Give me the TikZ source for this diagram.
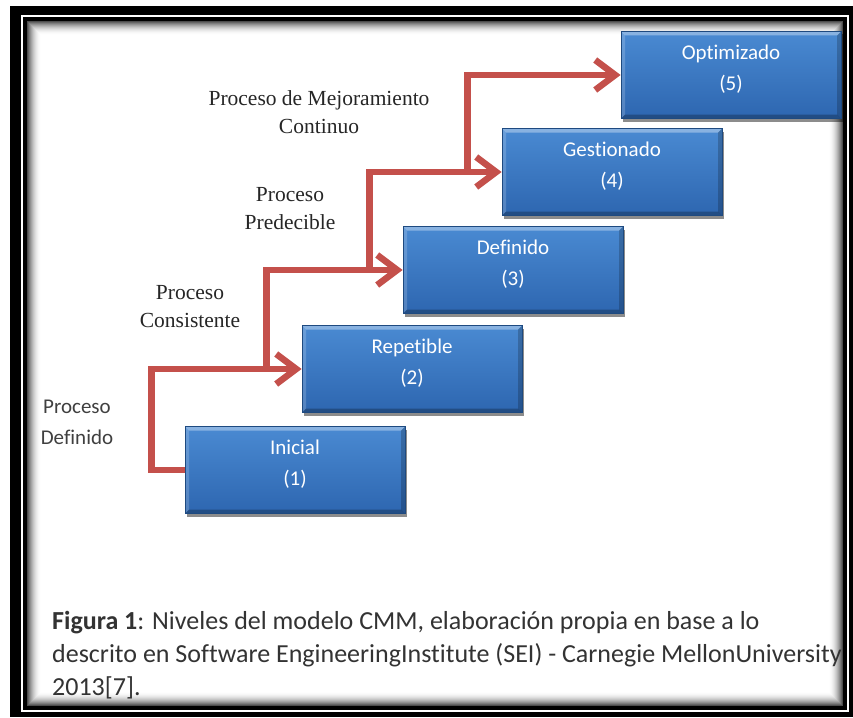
\documentclass[tikz,border=0pt]{standalone}
\usepackage{fontspec}
\setmainfont{Liberation Serif}
\newfontfamily\calib[Ligatures=NoCommon]{Carlito}
\usetikzlibrary{arrows.meta,shadows}

\definecolor{stepred}{HTML}{C4504B}
\definecolor{boxtop}{HTML}{4A8AD2}
\definecolor{boxbot}{HTML}{2D66B0}
\definecolor{boxedge}{HTML}{1E4A80}
\definecolor{labelgray}{HTML}{262626}

\begin{document}
\begin{tikzpicture}[x=1pt,y=-1pt,
  level/.style={minimum width=220pt, minimum height=87pt, inner sep=0pt,
    draw=boxedge, line width=0.8pt, top color=boxtop, bottom color=boxbot,
    drop shadow={shadow xshift=2pt, shadow yshift=-3pt, fill=black, opacity=.45},
    path picture={
      \fill[white,opacity=.35] (path picture bounding box.north west) -- (path picture bounding box.north east)
        -- ([xshift=-4pt,yshift=-4pt]path picture bounding box.north east) -- ([xshift=4pt,yshift=-4pt]path picture bounding box.north west) -- cycle;
      \fill[white,opacity=.18] (path picture bounding box.north west) -- ([xshift=4pt,yshift=-4pt]path picture bounding box.north west)
        -- ([xshift=4pt,yshift=4pt]path picture bounding box.south west) -- (path picture bounding box.south west) -- cycle;
      \fill[black,opacity=.25] (path picture bounding box.south west) -- ([xshift=4pt,yshift=4pt]path picture bounding box.south west)
        -- ([xshift=-4pt,yshift=4pt]path picture bounding box.south east) -- (path picture bounding box.south east) -- cycle;
      \fill[black,opacity=.2] (path picture bounding box.north east) -- ([xshift=-4pt,yshift=-4pt]path picture bounding box.north east)
        -- ([xshift=-4pt,yshift=4pt]path picture bounding box.south east) -- (path picture bounding box.south east) -- cycle;
    }},
  leveltext/.style={align=center, text=white, inner sep=0pt, font=\calib\fontsize{21}{31}\selectfont},
  stage/.style={align=center, text=labelgray, inner sep=0pt, font=\fontsize{21.5}{28}\selectfont},
  climb/.style={draw=stepred, line width=6.5pt, -{Straight Barb[length=20pt,width=30pt]}},
  caption/.style={align=left, text=black!80, inner sep=0pt, anchor=base west, font=\calib\fontsize{26}{33}\selectfont}
]
\useasboundingbox (0,0) rectangle (853,717);
\fill[white] (0,0) rectangle (853,717);

% framed panel
\fill[black] (10,6) rectangle (853,717);
\draw[white, line width=2pt] (22,16) rectangle (848,711);
\fill[black] (23,17) rectangle (846,710);
\foreach \i [evaluate=\i as \g using {70*(1-\i/14)^2}] in {0,...,14}
  \fill[black!\g!white] (27+\i,21+\i) rectangle (843-\i,706-\i);

% maturity levels
\node[level] (b1) at (295,470) {};
\node[level] (b2) at (412,369) {};
\node[level] (b3) at (513,270) {};
\node[level] (b4) at (612,172) {};
\node[level] (b5) at (731,75) {};

\node[leveltext] (t1) at ([yshift=6pt]b1.center) {Inicial\\(1)};
\node[leveltext] (t2) at ([yshift=6pt]b2.center) {Repetible\\(2)};
\node[leveltext] (t3) at ([yshift=6pt]b3.center) {Definido\\(3)};
\node[leveltext] (t4) at ([yshift=6pt]b4.center) {Gestionado\\(4)};
\node[leveltext] (t5) at ([yshift=6pt]b5.center) {Optimizado\\(5)};

% staircase of arrows
\draw[climb] (b1.west) -- ++(-33,0) |- (b2.west);
\draw[climb] ([xshift=-35pt]b2.west) |- (b3.west);
\draw[climb] ([xshift=-33pt]b3.west) |- (b4.west);
\draw[climb] ([xshift=-34pt]b4.west) |- (b5.west);

% process labels
\node[stage] (p4) at (319,112) {Proceso de Mejoramiento\\Continuo};
\node[stage] (p3) at (290,209) {Proceso\\Predecible};
\node[stage] (p2) at (190,307) {Proceso\\Consistente};
\node[align=center, text=black!75, inner sep=0pt, font=\calib\fontsize{21}{31}\selectfont] (p1) at (77,422) {Proceso\\Definido};

% caption (base anchor sits on the last line)
\node[caption] (cap) at (52,695) {\textbf{Figura 1}: Niveles del modelo CMM, elaboración propia en base a lo\\descrito en Software EngineeringInstitute (SEI) - Carnegie MellonUniversity\\2013[7].};
\end{tikzpicture}
\end{document}
